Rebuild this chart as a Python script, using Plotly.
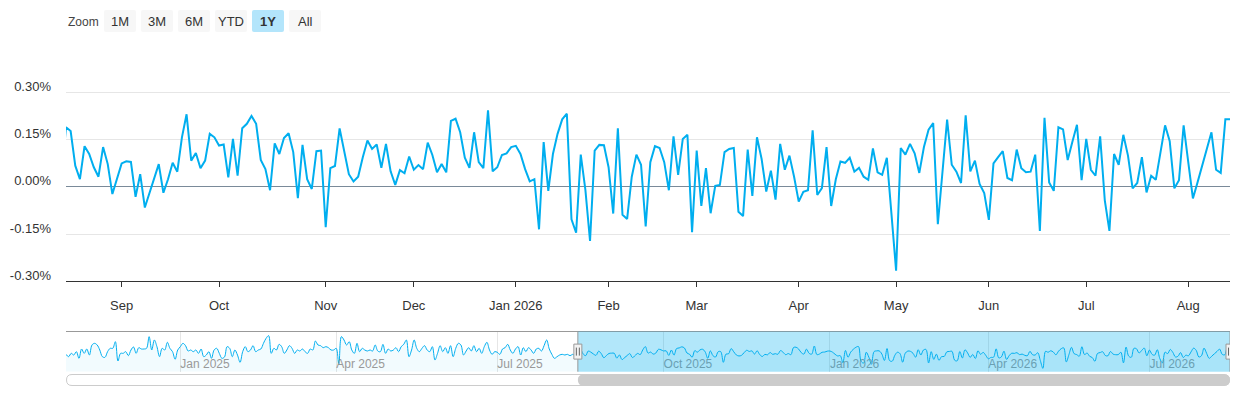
import pandas as pd
import plotly.graph_objects as go

# daily change in %, oldest first
# older block: only seen in the navigator (read off the small strip)
earlier_vals = [
    0.054, 0.001, 0.077, 0.039, 0.115, -0.037, 0.176, 0.077, 0.176, 0.039,
    0.267, 0.305, 0.267, 0.153, 0.001, -0.014, 0.115, 0.191, 0.191, 0.343,
    -0.098, 0.077, 0.077, 0.115, 0.024, 0.153, 0.221, 0.077, 0.206, 0.176,
    0.176, 0.191, 0.457, 0.153, 0.381, 0.229, 0.001, 0.191, 0.153, 0.328,
    0.191, 0.115, -0.060, 0.153, 0.229, 0.305, 0.252, 0.130, 0.153, 0.115,
    0.153, 0.077, 0.176, 0.001, 0.039, 0.115, -0.037, 0.153, 0.191, 0.077,
    -0.037, -0.007, 0.229, 0.191, 0.001, 0.153, 0.039, -0.128, 0.115, 0.229,
    0.115, 0.153, 0.252, 0.115, 0.153, 0.176, 0.305, 0.419, 0.480, 0.077,
    0.191, 0.153, 0.282, 0.229, 0.077, 0.153, 0.252, 0.191, 0.077, 0.153,
    0.130, 0.176, 0.115, 0.077, 0.176, 0.153, 0.358, 0.267, 0.252, 0.206,
    0.229,
    0.206, 0.153, 0.153, 0.191, -0.174, 0.457, 0.381, 0.267, 0.343, 0.153,
    0.077, 0.305, 0.115, 0.191, 0.153, 0.130, 0.153, 0.130, 0.267, 0.130,
    0.115, 0.282, 0.077, 0.176, 0.130, 0.153, 0.206, 0.115, 0.229, 0.282,
    0.381, 0.001, 0.153, 0.381, 0.191, 0.115, 0.191, 0.252, 0.153, 0.115,
    0.229, -0.075, 0.077, 0.252, 0.115, 0.206, 0.077, 0.252, 0.001, 0.191,
    0.305, 0.267, 0.039, 0.130, 0.206, 0.130, 0.252, 0.115, 0.191, 0.077,
    0.229, 0.328, 0.153, 0.054, 0.115, 0.100, 0.054, 0.176, 0.206, 0.282,
    0.153, 0.077, 0.176, 0.229, 0.039, 0.206, 0.115, 0.206, 0.153, 0.077,
    0.176, 0.191, 0.130, 0.252, 0.381, 0.176, 0.054, -0.037, 0.001, 0.039,
    0.054, 0.039, 0.054, 0.024, 0.054, 0.024,
]

# last year, the part shown in the main chart
recent_vals = [
    0.189, 0.177, 0.067, 0.024, 0.129, 0.104, 0.062, 0.032, 0.126, 0.072,
    -0.023, 0.028, 0.074, 0.081, 0.079, -0.032, 0.040, -0.066, -0.020, 0.027,
    0.072, -0.019, 0.024, 0.076, 0.048, 0.157, 0.230, 0.083, 0.107, 0.059,
    0.083, 0.168, 0.157, 0.131, 0.134, 0.030, 0.152, 0.035, 0.186, 0.200,
    0.225, 0.200,
    0.085, 0.056, -0.011, 0.138, 0.104, 0.155, 0.170, 0.110, -0.036, 0.133,
    0.024, -0.007, 0.113, 0.115, -0.128, 0.059, 0.066, 0.185, 0.113, 0.040,
    0.017, 0.032, 0.094, 0.147, 0.120, 0.134, 0.060, 0.136, 0.049, 0.006,
    0.053, 0.043, 0.096, 0.054, 0.069, 0.056, 0.140, 0.101, 0.046, 0.072,
    0.046, 0.209,
    0.216, 0.173, 0.092, 0.060, 0.173, 0.078, 0.059, 0.243, 0.049, 0.062,
    0.101, 0.106, 0.126, 0.130, 0.104, 0.056, 0.017, 0.024, -0.135, 0.142,
    -0.013, 0.104, 0.168, 0.214, 0.232, -0.103, -0.146, 0.102, -0.010, -0.172,
    0.115, 0.133, 0.132, 0.062, -0.085, 0.186, -0.089, -0.102, 0.032, 0.102,
    0.070, -0.126,
    0.078, 0.129, 0.123, 0.078, -0.011, 0.160, 0.038, 0.152, 0.165, -0.144,
    0.115, -0.061, 0.059, -0.084, 0.003, 0.006, 0.110, 0.120, 0.123, -0.079,
    -0.093, 0.118, -0.029, 0.157, 0.088, -0.015, 0.051, -0.041, 0.136, 0.054,
    0.099, 0.032, -0.047, -0.016, -0.011, 0.179, -0.026, -0.004, 0.126, -0.061,
    0.024, 0.080,
    0.076, 0.092, 0.048, 0.060, 0.032, 0.022, 0.122, 0.046, 0.038, 0.092,
    -0.087, -0.266, 0.123, 0.102, 0.136, 0.106, 0.044, 0.126, 0.181, 0.202,
    -0.119, 0.047, 0.213, 0.070, 0.048, 0.012, 0.227, 0.049, 0.083, 0.009,
    -0.020, -0.105, 0.074, 0.094, 0.113, 0.028, 0.021, 0.118, 0.059, 0.046,
    0.048, 0.102,
    -0.140, 0.219, 0.014, -0.013, 0.189, 0.182, 0.085, 0.142, 0.197, 0.021,
    0.152, 0.054, 0.035, 0.160, -0.043, -0.140, 0.104, 0.070, 0.165, 0.099,
    -0.005, 0.012, 0.094, -0.018, 0.035, 0.022, 0.110, 0.195, 0.145, -0.005,
    0.021, 0.195, 0.078, -0.037, 0.014, 0.067, 0.120, 0.173, 0.054, 0.044,
    0.214, 0.214,
]

# market closed on these days (no points, hidden on the axis)
HOLIDAYS = [
    "2024-11-28", "2024-12-25", "2025-01-01", "2025-01-09", "2025-01-20",
    "2025-02-17", "2025-04-18", "2025-05-26", "2025-06-19", "2025-07-04",
    "2025-09-01", "2025-11-27", "2025-12-25", "2026-01-01", "2026-01-19",
    "2026-02-16", "2026-04-03", "2026-05-25", "2026-06-19", "2026-07-03",
]
last_day = "2026-08-14"
window_start = "2025-08-14"   # 1Y selected

y_ticks = [-0.30, -0.15, 0.0, 0.15, 0.30, 0.45]
y_labels = ["-0.30%", "-0.15%", "0.00%", "0.15%", "0.30%", ""]
buttons = ["1M", "3M", "6M", "YTD", "1Y", "All"]
active = "1Y"

LINE = "#00aeef"
FONT = "Liberation Sans, Arial, sans-serif"

vals = earlier_vals + recent_vals
dates = pd.bdate_range(end=last_day, periods=len(vals), freq="C", holidays=HOLIDAYS)

s = pd.Series(dates)
firsts = [d for d in s.groupby(s.dt.to_period("M")).min() if d > dates[0]]
main_ticks = [d for d in firsts if d >= pd.Timestamp(window_start)]
main_text = [d.strftime("%b %Y") if d.month == 1 else d.strftime("%b") for d in main_ticks]
nav_ticks = [d for d in firsts if d.month in (1, 4, 7, 10)]
nav_text = [d.strftime("%b %Y") for d in nav_ticks]

breaks = [dict(bounds=["sat", "mon"]), dict(values=HOLIDAYS)]

# the page puts the figure 8px in from the window corner;
# helpers below take window pixels (plot area x 66..1230, y 10..390)
W, H, L, T = 1164, 380, 66, 10
def px(x):
    return (x - L) / W
def py(y):
    return (T + H - y) / H

def rounded(x0, y0, x1, y1, r):
    l, rr, t, b = px(x0), px(x1), py(y0), py(y1)
    ax, ay = r / W, r / H
    return (f"M{l+ax},{t} L{rr-ax},{t} Q{rr},{t} {rr},{t-ay} L{rr},{b+ay} "
            f"Q{rr},{b} {rr-ax},{b} L{l+ax},{b} Q{l},{b} {l},{b+ay} "
            f"L{l},{t-ay} Q{l},{t} {l+ax},{t} Z")

nav_lo, nav_hi = -0.342, 0.575

fig = go.Figure()
fig.add_trace(go.Scatter(x=dates, y=vals, mode="lines",
                         line=dict(color=LINE, width=2), hoverinfo="skip"))
# navigator: invisible floor + smoothed area
fig.add_trace(go.Scatter(x=dates, y=[nav_lo] * len(dates), xaxis="x2", yaxis="y2",
                         mode="lines", line=dict(width=0), hoverinfo="skip"))
fig.add_trace(go.Scatter(x=dates, y=vals, xaxis="x2", yaxis="y2", mode="lines",
                         line=dict(color=LINE, width=1, shape="spline"),
                         fill="tonexty", fillcolor="rgba(0,174,239,0.05)",
                         hoverinfo="skip"))

shapes = []
# navigator outline and selected-range mask
shapes.append(dict(type="line", xref="paper", yref="y2 domain", x0=0, x1=1, y0=1, y1=1,
                   line=dict(color="#999999", width=1), layer="above"))
shapes.append(dict(type="rect", xref="x2", yref="y2 domain", x0=window_start, x1=dates[-1],
                   y0=0, y1=1, fillcolor="rgba(0,174,239,0.3)", line=dict(width=0),
                   layer="above"))
for edge in [window_start, dates[-1]]:
    shapes.append(dict(type="line", xref="x2", yref="y2 domain", x0=edge, x1=edge,
                       y0=0, y1=1, line=dict(color="#999999", width=1), layer="above"))
    shapes.append(dict(type="rect", xref="x2", yref="y2 domain", xsizemode="pixel",
                       ysizemode="pixel", xanchor=edge, yanchor=0.5, x0=-4, x1=4,
                       y0=-7.5, y1=7.5, fillcolor="#f2f2f2",
                       line=dict(color="#999999", width=1), layer="above"))
    for off in (-1.5, 1.5):
        shapes.append(dict(type="line", xref="x2", yref="y2 domain", xsizemode="pixel",
                           ysizemode="pixel", xanchor=edge, yanchor=0.5, x0=off, x1=off,
                           y0=-4, y1=4, line=dict(color="#666666", width=1),
                           layer="above"))

# scrollbar
frac = len(earlier_vals) / (len(vals) - 1)
shapes.append(dict(type="path", xref="paper", yref="paper",
                   path=rounded(66.5, 374.5, 1229.5, 385.5, 5.5),
                   fillcolor="#ffffff", line=dict(color="#cccccc", width=1)))
shapes.append(dict(type="path", xref="paper", yref="paper",
                   path=rounded(L + frac * W, 374.5, 1230, 385.5, 5.5),
                   fillcolor="#cccccc", line=dict(width=0)))

# zoom buttons
annotations = [dict(text="Zoom", xref="paper", yref="paper", x=px(66), y=py(21.5),
                    xanchor="left", yanchor="middle", showarrow=False,
                    font=dict(family=FONT, size=12, color="#444444"))]
for i, b in enumerate(buttons):
    x0 = 104 + i * 37
    on = b == active
    shapes.append(dict(type="path", xref="paper", yref="paper",
                       path=rounded(x0, 10, x0 + 32, 32, 2),
                       fillcolor="#b3e5fb" if on else "#f7f7f7", line=dict(width=0)))
    annotations.append(dict(text=f"<b>{b}</b>" if on else b, xref="paper", yref="paper",
                            x=px(x0 + 16), y=py(21.5), xanchor="center", yanchor="middle",
                            showarrow=False,
                            font=dict(family=FONT, size=13, color="#333333")))

fig.update_layout(
    width=1232, height=392,
    margin=dict(l=58, r=10, t=2, b=10, autoexpand=False),
    plot_bgcolor="#ffffff", paper_bgcolor="#ffffff",
    showlegend=False,
    font=dict(family=FONT, color="#333333"),
    shapes=shapes, annotations=annotations,
    xaxis=dict(domain=[0, 1], anchor="y", range=[window_start, dates[-1]],
               rangebreaks=breaks, tickvals=main_ticks, ticktext=main_text,
               ticks="outside", ticklen=5, tickcolor="#333333", showline=True,
               linecolor="#333333", linewidth=1, showgrid=False, zeroline=False,
               tickfont=dict(size=13, color="#333333"), ticklabelstandoff=7,
               automargin=False),
    yaxis=dict(domain=[py(281.3), py(45)], anchor="x", range=[-0.30, 0.45],
               tickvals=y_ticks, ticktext=y_labels, showgrid=True, gridcolor="#e6e6e6",
               zeroline=True, zerolinecolor="#7a8a99", zerolinewidth=1,
               ticks="", tickfont=dict(size=13, color="#333333"),
               ticklabelshift=-6, ticklabelstandoff=14, automargin=False),
    xaxis2=dict(domain=[0, 1], anchor="y2", range=[dates[0], dates[-1]],
                rangebreaks=breaks, tickvals=nav_ticks, ticktext=nav_text,
                ticklabelposition="inside right", ticks="", showgrid=True,
                gridcolor="#e6e6e6", showline=False, zeroline=False,
                tickfont=dict(size=12, color="#999999"), ticklabelstandoff=-5,
                automargin=False),
    yaxis2=dict(domain=[py(371.7), py(331.5)], anchor="x2", range=[nav_lo, nav_hi],
                visible=False, automargin=False),
)

fig.write_html("out.html")
